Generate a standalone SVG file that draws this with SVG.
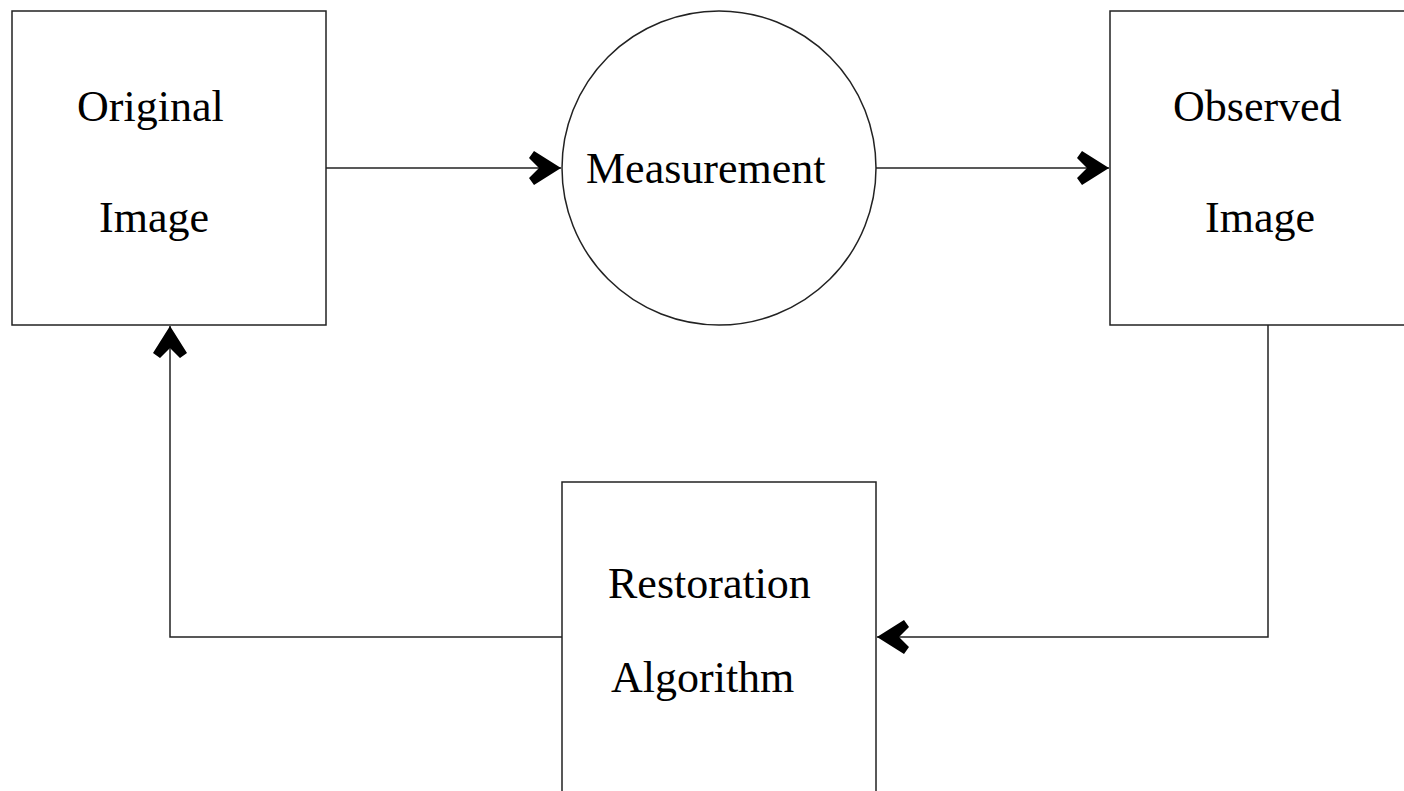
<svg xmlns="http://www.w3.org/2000/svg" width="1404" height="791" viewBox="0 0 1404 791">
<style>
.node{fill:#fff;stroke:#222;stroke-width:1.5}
.lbl{font-family:"Liberation Serif","Times New Roman",serif;font-size:44px;fill:#000}
.conn{fill:none;stroke:#222;stroke-width:1.5}
</style>
<defs>
<marker id="arr" markerUnits="userSpaceOnUse" viewBox="-34 -18 36 36" refX="0" refY="0" markerWidth="36" markerHeight="36" orient="auto" overflow="visible">
<polygon points="0,0 -27,-17 -32,-10 -22,0 -32,10 -27,17" fill="#000"/>
</marker>
</defs>
<rect width="1404" height="791" fill="#fff"/>
<g id="connectors">
<path class="conn" d="M326,168 H561" marker-end="url(#arr)"/>
<path class="conn" d="M876,168 H1109" marker-end="url(#arr)"/>
<path class="conn" d="M1268,325 V637 H877" marker-end="url(#arr)"/>
<path class="conn" d="M562,637 H170 V326" marker-end="url(#arr)"/>
</g>
<g id="original">
<rect class="node" x="12" y="11" width="314" height="314"/>
<text class="lbl" x="77" y="121">Original</text>
<text class="lbl" x="99" y="232">Image</text>
</g>
<g id="measurement">
<circle class="node" cx="719" cy="168" r="157"/>
<text class="lbl" x="586" y="183">Measurement</text>
</g>
<g id="observed">
<rect class="node" x="1110" y="11" width="320" height="314"/>
<text class="lbl" x="1173" y="121">Observed</text>
<text class="lbl" x="1205" y="232">Image</text>
</g>
<g id="restoration">
<rect class="node" x="562" y="482" width="314" height="340"/>
<text class="lbl" x="608" y="598">Restoration</text>
<text class="lbl" x="611" y="692">Algorithm</text>
</g>
</svg>
